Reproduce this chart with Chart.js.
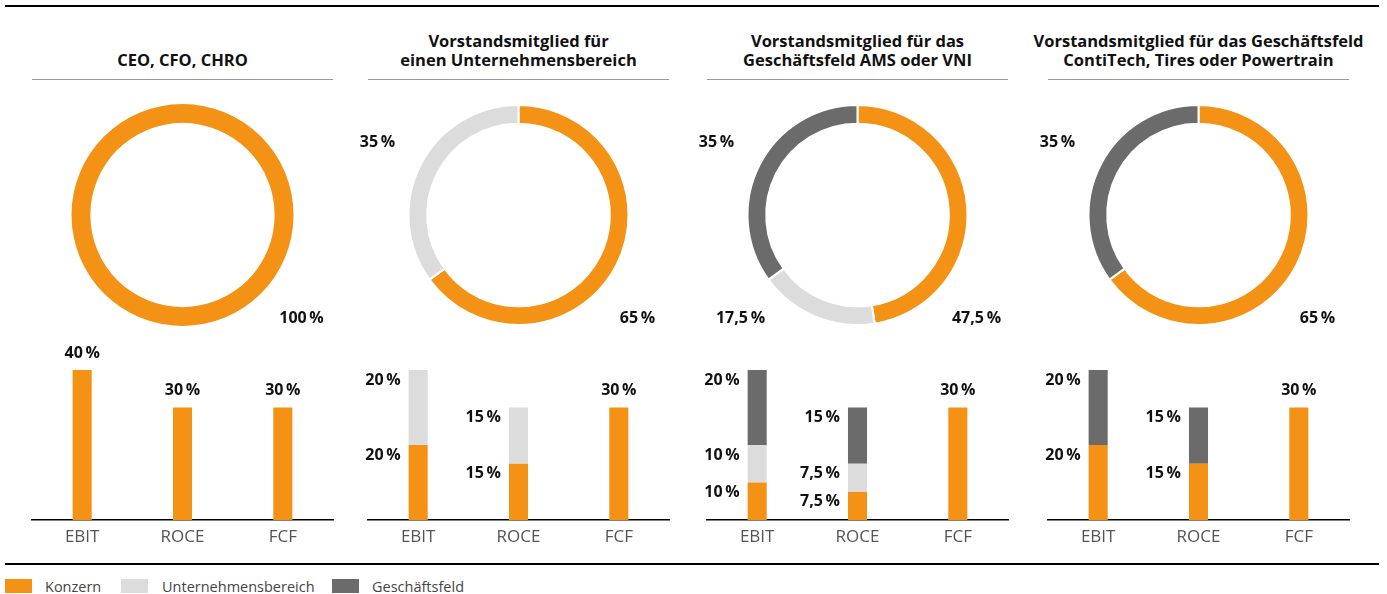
<!DOCTYPE html>
<html lang="de">
<head>
  <meta charset="UTF-8" />
  <title>Zielgrößen Vorstandsvergütung</title>
  <script src="https://cdn.jsdelivr.net/npm/chart.js"></script>
  <style>
    body { margin: 0; width: 1387px; height: 594px; position: relative; overflow: hidden; background: #fff; font-family: "Open Sans", sans-serif; }
    .rule { position: absolute; left: 5px; width: 1374px; height: 2px; background: #000; }
    .title { position: absolute; top: 0; width: 301px; height: 69px; display: flex; align-items: flex-end; justify-content: center; text-align: center; font-weight: 700; font-size: 16.5px; line-height: 19px; color: #111; white-space: nowrap; }
    .divider { position: absolute; top: 79px; width: 301px; height: 1px; background: #999; }
    canvas { position: absolute; }
    .box { position: absolute; top: 579px; width: 27px; height: 14px; }
    .txt { position: absolute; top: 578px; font-size: 14.5px; line-height: 18px; color: #444; }
  </style>
</head>
<body>
  <div class="rule" style="top:5px"></div>
  <div class="rule" style="top:563px"></div>

  <div id="panels"></div>

  <!-- Legende -->
  <div id="legend"></div>

  <script>
    // Daten
    const categories = ['EBIT', 'ROCE', 'FCF'];
    const seriesNames = ['Konzern', 'Unternehmensbereich', 'Geschäftsfeld'];
    const colors = ['#F39214', '#DCDCDC', '#6B6B6B'];

    const titles = [
      'CEO, CFO, CHRO',
      'Vorstandsmitglied für<br>einen Unternehmensbereich',
      'Vorstandsmitglied für das<br>Geschäftsfeld AMS oder VNI',
      'Vorstandsmitglied für das Geschäftsfeld<br>ContiTech, Tires oder Powertrain'
    ];

    // Anteile im Ring (Konzern, Unternehmensbereich, Geschäftsfeld)
    const donutShares = [
      [100, 0, 0],
      [65, 35, 0],
      [47.5, 17.5, 35],
      [65, 0, 35]
    ];

    // Balken je Kennzahl (EBIT, ROCE, FCF)
    const konzernBars = [[40, 30, 30], [20, 15, 30], [10, 7.5, 30], [20, 15, 30]];
    const bereichBars = [[0, 0, 0], [20, 15, 0], [10, 7.5, 0], [0, 0, 0]];
    const feldBars    = [[0, 0, 0], [0, 0, 0], [20, 15, 0], [20, 15, 0]];

    const panelLeft = [32, 368, 707, 1048];
    const legendBoxX = [5, 121, 332];
    const legendTextX = [45, 162, 372];
    const FONT = '"Open Sans", sans-serif';

    const pct = v => v.toLocaleString('de-DE') + '\u2009%';

    // Beschriftung der Ringsegmente
    const spots = { br: [119, 103], bl: [-117, 103], tl: [-141, -73] };
    const donutLabels = {
      id: 'donutLabels',
      afterDatasetsDraw(chart, args, opts) {
        const ctx = chart.ctx;
        const meta = chart.getDatasetMeta(0);
        const cx = meta.data[0].x, cy = meta.data[0].y;
        ctx.save();
        ctx.font = 'bold 16px ' + FONT;
        ctx.fillStyle = '#111';
        ctx.textAlign = 'center';
        ctx.textBaseline = 'middle';
        chart.data.datasets[0].data.forEach((v, i) => {
          const s = spots[opts.places[i]];
          ctx.fillText(pct(v), cx + s[0], cy + s[1]);
        });
        ctx.restore();
      }
    };

    // Beschriftung der Balken
    const barLabels = {
      id: 'barLabels',
      afterDatasetsDraw(chart) {
        const ctx = chart.ctx;
        ctx.save();
        ctx.font = 'bold 16px ' + FONT;
        ctx.fillStyle = '#111';
        ctx.textBaseline = 'middle';
        chart.data.labels.forEach((lab, i) => {
          const segs = [];
          chart.data.datasets.forEach((ds, d) => {
            if (ds.data[i] > 0) segs.push({ v: ds.data[i], el: chart.getDatasetMeta(d).data[i] });
          });
          if (segs.length === 1) {
            ctx.textAlign = 'center';
            ctx.fillText(pct(segs[0].v), segs[0].el.x, segs[0].el.y - 17);
          } else {
            ctx.textAlign = 'right';
            segs.forEach(s => ctx.fillText(pct(s.v), s.el.x - s.el.width / 2 - 8, s.el.y + 10));
          }
        });
        ctx.restore();
      }
    };

    const panels = document.getElementById('panels');

    panelLeft.forEach((left, p) => {
      const t = document.createElement('div');
      t.className = 'title';
      t.style.left = left + 'px';
      t.innerHTML = titles[p];
      panels.appendChild(t);

      const d = document.createElement('div');
      d.className = 'divider';
      d.style.left = left + 'px';
      panels.appendChild(d);

      // Ring
      const dc = document.createElement('canvas');
      dc.width = 341; dc.height = 222;
      dc.style.left = (left - 20) + 'px'; dc.style.top = '104px';
      panels.appendChild(dc);

      const vals = [], cols = [], places = [];
      donutShares[p].forEach((v, i) => {
        if (v <= 0) return;
        vals.push(v);
        cols.push(colors[i]);
        if (i === 0) places.push('br');
        else if (i === 1) places.push(donutShares[p][2] > 0 ? 'bl' : 'tl');
        else places.push('tl');
      });

      new Chart(dc, {
        type: 'doughnut',
        data: { labels: seriesNames.filter((n, i) => donutShares[p][i] > 0), datasets: [{ data: vals, backgroundColor: cols, borderColor: '#fff', borderWidth: vals.length > 1 ? 2 : 0 }] },
        options: {
          responsive: false, animation: false, events: [],
          cutout: '83%',
          plugins: { legend: { display: false }, tooltip: { enabled: false }, donutLabels: { places: places } }
        },
        plugins: [donutLabels]
      });

      // Balken
      const bc = document.createElement('canvas');
      bc.width = 341; bc.height = 220;
      bc.style.left = (left - 20) + 'px'; bc.style.top = '340px';
      panels.appendChild(bc);

      new Chart(bc, {
        type: 'bar',
        data: {
          labels: categories,
          datasets: [
            { label: seriesNames[0], data: konzernBars[p], backgroundColor: colors[0] },
            { label: seriesNames[1], data: bereichBars[p], backgroundColor: colors[1] },
            { label: seriesNames[2], data: feldBars[p], backgroundColor: colors[2] }
          ]
        },
        options: {
          responsive: false, animation: false, events: [],
          datasets: { bar: { barPercentage: 0.19, categoryPercentage: 1 } },
          layout: { padding: { left: 20, right: 20, top: 0, bottom: 0 } },
          scales: {
            x: {
              stacked: true,
              grid: { display: false, drawTicks: false },
              border: { display: true, color: '#000', width: 1.5 },
              ticks: { color: '#555', font: { family: FONT, size: 17 }, padding: 7 },
              afterFit(s) { s.height = 40; }
            },
            y: { stacked: true, display: false, min: 0, max: 48 }
          },
          plugins: { legend: { display: false }, tooltip: { enabled: false } }
        },
        plugins: [barLabels]
      });
    });

    const legend = document.getElementById('legend');
    seriesNames.forEach((n, i) => {
      legend.innerHTML += '<div class="box" style="left:' + legendBoxX[i] + 'px;background:' + colors[i] + '"></div>' +
        '<div class="txt" style="left:' + legendTextX[i] + 'px">' + n + '</div>';
    });
  </script>
</body>
</html>
